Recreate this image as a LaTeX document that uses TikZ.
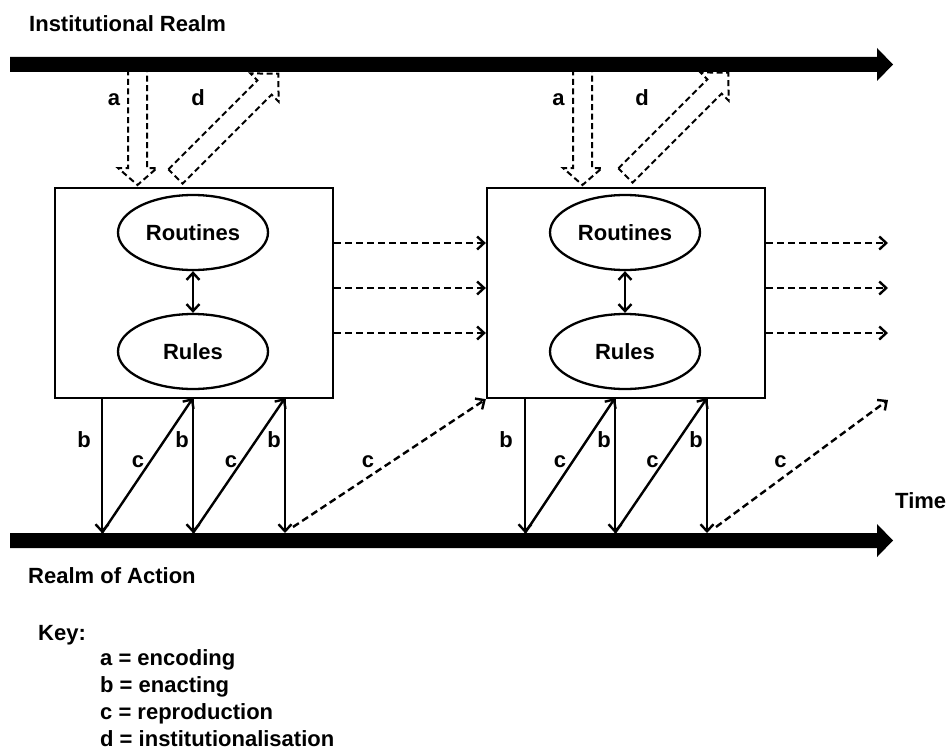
\documentclass[tikz,border=0pt]{standalone}
\usepackage{fontspec}
\setmainfont{Liberation Sans}
\usetikzlibrary{arrows.meta,shapes.geometric}
\begin{document}
\begin{tikzpicture}[x=1pt,y=-1pt,
  txt/.style={font=\fontsize{22}{26}\selectfont\bfseries, inner sep=0pt},
  lbl/.style={txt, anchor=base},
  frame/.style={draw, line width=2.3pt, minimum width=278pt, minimum height=210pt, inner sep=0pt},
  ell/.style={draw, ellipse, line width=2.3pt, minimum width=150pt, minimum height=75pt, inner sep=0pt, txt},
  conn/.style={line width=2.4pt, -{Straight Barb[length=7pt,width=13pt]}},
  both/.style={line width=2.4pt, {Straight Barb[length=7pt,width=13pt]}-{Straight Barb[length=7pt,width=13pt]}},
  dconn/.style={conn, dash pattern=on 7pt off 4pt},
  hollow/.style={line width=2pt, dash pattern=on 6pt off 3.5pt, fill=white},
  bar/.style={fill=black}
]
\useasboundingbox (0,0) rectangle (949,749);

% hollow dashed arrows a and d (drawn before the bar)
\draw[hollow] (128,60) -- (128,168) -- (118,168) -- (137.5,185) -- (157,168) -- (147,168) -- (147,60);
\draw[hollow] (573,60) -- (573,168) -- (563,168) -- (582.5,185) -- (602,168) -- (592,168) -- (592,60);
\draw[hollow] (168.4,169.4) -- (257.4,80.4) -- (250.4,73.4) -- (278.3,73.7) -- (278.6,101.6) -- (271.6,94.6) -- (182.6,183.6) -- cycle;
\draw[hollow] (618.4,168.4) -- (707.4,79.4) -- (700.4,72.4) -- (728.3,72.7) -- (728.6,100.6) -- (721.6,93.6) -- (632.6,182.6) -- cycle;

% realm bars
\fill[bar] (10,57) -- (877,57) -- (877,48) -- (893,64.5) -- (877,81) -- (877,72) -- (10,72) -- cycle;
\fill[bar] (10,533) -- (877,533) -- (877,524) -- (893,540.5) -- (877,557) -- (877,548) -- (10,548) -- cycle;

% boxes and ellipses
\node[frame] (box1) at (194,293) {};
\node[frame] (box2) at (626,293) {};
\node[ell] (rout1) at (193,232.5) {Routines};
\node[ell] (rule1) at (193,351.5) {Rules};
\node[ell] (rout2) at (625,232.5) {Routines};
\node[ell] (rule2) at (625,351.5) {Rules};
\draw[both] (rout1) -- (rule1);
\draw[both] (rout2) -- (rule2);

% dashed horizontal arrows
\foreach \y [count=\i] in {243,288,333} {
  \coordinate (h\i) at (0,\y);
  \coordinate (e\i) at (888,\y);
  \draw[dconn] (box1.east |- h\i) -- (box2.west |- h\i);
  \draw[dconn] (box2.east |- h\i) -- (e\i);
}

% b and c arrows
\foreach \x [count=\i] in {102,193,285,525,615,707} {
  \coordinate (bt\i) at (\x,398);
  \coordinate (bg\i) at (\x,533);
  \draw[conn] (bt\i) -- (bg\i);
}
\draw[conn] (bg1) -- (bt2);
\draw[conn] (bg2) -- (bt3);
\draw[conn] (bg4) -- (bt5);
\draw[conn] (bg5) -- (bt6);
\coordinate (dc1) at (293,527);
\draw[dconn] (dc1) -- (box2.south west);
\coordinate (dc2) at (716,527);
\coordinate (dc2e) at (888,400);
\draw[dconn] (dc2) -- (dc2e);

% labels
\node[lbl] (la1) at (114,106) {a};
\node[lbl] (ld1) at (198,106) {d};
\node[lbl] (la2) at (558.5,106) {a};
\node[lbl] (ld2) at (642,106) {d};
\foreach \x [count=\i] in {84,182,274,506,604,696} { \node[lbl] (lb\i) at (\x,447) {b}; }
\foreach \x [count=\i] in {138,231,368,560,652.5,780.5} { \node[lbl] (lc\i) at (\x,467) {c}; }

% texts
\node[txt, anchor=base west] (inst) at (29,32) {Institutional Realm};
\node[txt, anchor=base west] (act) at (28,583) {Realm of Action};
\node[txt, anchor=base west] (time) at (895,508) {Time};
\node[txt, anchor=base west] (key) at (38,640) {Key:};
\node[txt, anchor=base west] (k1) at (100,665) {a = encoding};
\node[txt, anchor=base west] (k2) at (100,692) {b = enacting};
\node[txt, anchor=base west] (k3) at (100,719) {c = reproduction};
\node[txt, anchor=base west] (k4) at (100,746) {d = institutionalisation};
\end{tikzpicture}
\end{document}
